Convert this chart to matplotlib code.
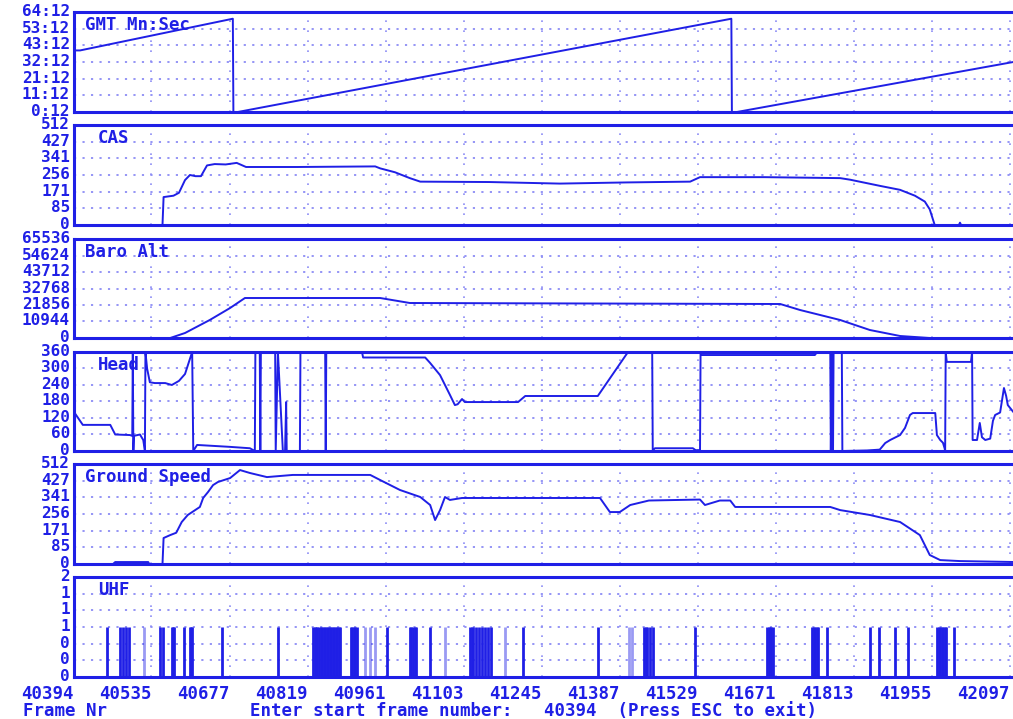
import numpy as np
import matplotlib
matplotlib.use("Agg")
import matplotlib.pyplot as plt
import matplotlib.transforms as mtransforms

# ---------------- data ----------------
x_ticks = [40394, 40535, 40677, 40819, 40961, 41103, 41245, 41387, 41529, 41671, 41813, 41955, 42097]
x_labels = ["40394", "40535", "40677", "40819", "40961", "41103", "41245", "41387",
            "41529", "41671", "41813", "41955", "42097"]

gmt_frames = [40394, 40405, 40683, 40684, 40692, 41590, 41591, 41600, 42103]
gmt_minutes = [39.6, 39.6, 59.9, 0.2, 0.2, 59.9, 0.2, 0.2, 32.2]
gmt_ticks = [0.2, 10.87, 21.53, 32.2, 42.87, 53.53, 64.2]
gmt_labels = ["0:12", "11:12", "21:12", "32:12", "43:12", "53:12", "64:12"]

cas_frames = [40394, 40555, 40557, 40575, 40585, 40596, 40605, 40615, 40625, 40636, 40650, 40670,
              40690, 40707, 40800, 40942, 40951, 40978, 41005, 41024, 41150, 41278, 41400, 41515,
              41533, 41650, 41788, 41806, 41861, 41897, 41924, 41942, 41951, 41960, 42004, 42006,
              42008, 42108]
cas_values = [0, 0, 143, 150, 165, 230, 256, 250, 250, 305, 312, 310,
              318, 297, 297, 300, 290, 270, 240, 222, 220, 212, 218, 222,
              245, 245, 240, 232, 200, 180, 150, 120, 80, 0, 0, 12,
              0, 0]
spd_ticks = [0, 85.33, 170.67, 256, 341.33, 426.67, 512]
spd_labels = ["0", "85", "171", "256", "341", "427", "512"]

alt_frames = [40394, 40569, 40596, 40641, 40678, 40705, 40951, 41005, 41679, 41715, 41788,
              41842, 41897, 41951, 42108]
alt_values = [0, 0, 3310, 11916, 19860, 26480, 26480, 23170, 22500, 18535, 11916,
              5296, 1324, 0, 0]
alt_ticks = [0, 10922.7, 21845.3, 32768, 43690.7, 54613.3, 65536]
alt_labels = ["0", "10944", "21856", "32768", "43712", "54624", "65536"]

head_frames = [40394, 40410, 40460, 40469, 40496, 40500, 40501, 40502, 40503, 40514, 40520, 40523,
               40524, 40527, 40532, 40541, 40560, 40572, 40585, 40596, 40609, 40611, 40618, 40678,
               40714, 40723, 40724, 40732, 40733, 40734, 40760, 40761, 40765, 40774, 40778, 40780,
               40781, 40805, 40806, 40851, 40852, 40853, 40918, 40920, 41033, 41042, 41060, 41069,
               41078, 41087, 41092, 41100, 41105, 41202, 41215, 41347, 41402, 41446, 41447, 41451,
               41520, 41525, 41533, 41534, 41535, 41742, 41746, 41770, 41771, 41773, 41775, 41776,
               41791, 41792, 41837, 41860, 41870, 41879, 41897, 41906, 41915, 41920, 41961, 41964,
               41970, 41975, 41978, 41979, 41980, 41982, 42026, 42028, 42029, 42033, 42037, 42042,
               42046, 42052, 42061, 42066, 42070, 42079, 42086, 42090, 42093, 42103]
head_values = [142, 95, 95, 60, 58, 55, 360, 0, 55, 60, 40, 0,
               360, 300, 250, 247, 247, 240, 255, 280, 360, 0, 22, 15,
               10, 0, 360, 355, 0, 360, 358, 0, 360, 0, 0, 178,
               0, 0, 360, 360, 0, 360, 360, 340, 340, 320, 276, 240,
               204, 167, 170, 189, 178, 178, 200, 200, 360, 360, 2, 10,
               10, 3, 3, 360, 349, 349, 360, 360, 0, 360, 0, 360,
               360, 0, 2, 5, 29, 40, 58, 84, 131, 138, 138, 58,
               40, 30, 10, 0, 360, 324, 324, 360, 40, 40, 40, 102,
               50, 40, 45, 110, 131, 140, 229, 200, 167, 142]
head_ticks = [0, 60, 120, 180, 240, 300, 360]
head_labels = ["0", "60", "120", "180", "240", "300", "360"]

gs_frames = [40394, 40465, 40469, 40529, 40531, 40555, 40557, 40569, 40580, 40590, 40601, 40623,
             40629, 40638, 40647, 40656, 40678, 40696, 40714, 40745, 40792, 40933, 40951, 40987,
             41024, 41042, 41051, 41060, 41069, 41078, 41100, 41351, 41369, 41387, 41406, 41440,
             41533, 41542, 41569, 41588, 41597, 41770, 41788, 41842, 41897, 41933, 41951, 41970,
             42006, 42108]
gs_values = [0, 0, 10, 10, 0, 0, 133, 148, 160, 215, 251, 292,
             338, 369, 404, 420, 440, 481, 466, 445, 456, 456, 430, 379,
             343, 302, 225, 276, 343, 328, 338, 338, 266, 266, 302, 325,
             330, 302, 325, 325, 292, 292, 276, 251, 215, 148, 46, 20,
             15, 10]

uhf_frames = [40454, 40478, 40483, 40489, 40494, 40550, 40556, 40572, 40574, 40576, 40594, 40605,
              40607, 40609, 40663, 40765, 40829, 40832, 40834, 40837, 40840, 40843, 40845, 40848,
              40851, 40854, 40856, 40859, 40862, 40865, 40867, 40870, 40873, 40876, 40878, 40898,
              40900, 40903, 40906, 40909, 40964, 41005, 41008, 41011, 41014, 41016, 41042, 41115,
              41118, 41120, 41125, 41131, 41136, 41142, 41147, 41153, 41211, 41347, 41431, 41434,
              41437, 41442, 41447, 41524, 41655, 41658, 41660, 41663, 41666, 41737, 41740, 41742,
              41745, 41748, 41764, 41842, 41859, 41888, 41911, 41964, 41967, 41970, 41973, 41975,
              41978, 41981, 41995]
uhf_values = [1] * len(uhf_frames)
uhf_light_frames = [40521, 40923, 40933, 40942, 41069, 41178, 41404, 41409]
uhf_light_values = [1] * len(uhf_light_frames)
uhf_ticks = [0, 0.333, 0.667, 1.0, 1.333, 1.667, 2.0]
uhf_labels = ["0", "0", "0", "1", "1", "1", "2"]

# ---------------- style ----------------
W, H = 1013, 719
BLUE = "#1f1fe6"
GRID = "#8c8cf5"
FONT = "DejaVu Sans Mono"
FS = 12.5
FSY = 11.5

fig = plt.figure(figsize=(W / 100, H / 100), dpi=100)
fig.patch.set_facecolor("white")

panels = [(12, 112), (125, 225), (239, 338), (352, 451), (464, 564), (577, 677)]
left_px, right_px = 74, 1016
x_left = 40394
x_right = 40394 + (right_px - left_px) * (42097 - 40394) / (1010 - 74)

specs = [
    ("GMT Mn:Sec", 85, gmt_ticks, gmt_labels, (0.2, 64.2)),
    ("CAS", 98, spd_ticks, spd_labels, (0, 512)),
    ("Baro Alt", 85, alt_ticks, alt_labels, (0, 65536)),
    ("Head", 98, head_ticks, head_labels, (0, 360)),
    ("Ground Speed", 85, spd_ticks, spd_labels, (0, 512)),
    ("UHF", 98, uhf_ticks, uhf_labels, (0, 2)),
]

shift = mtransforms.ScaledTranslation(-4 / 100, 0.5 / 100, fig.dpi_scale_trans)

axes = []
for (top, bot), (title, tx, yt, yl, ylim) in zip(panels, specs):
    ax = fig.add_axes([left_px / W, 1 - bot / H, (right_px - left_px) / W, (bot - top) / H])
    ax.set_xlim(x_left, x_right)
    ax.set_ylim(*ylim)
    ax.set_yticks(yt)
    ax.set_xticks(x_ticks)
    ax.tick_params(axis="both", length=0, pad=4, labelleft=False, labelbottom=False)
    trans = mtransforms.blended_transform_factory(ax.transAxes, ax.transData) + shift
    for v, lab in zip(yt, yl):
        ax.text(0, v, lab, transform=trans, ha="right", va="center", fontfamily=FONT,
                fontweight="bold", fontsize=FSY, color=BLUE, clip_on=False)
    ax.grid(True, axis="y", color=GRID, linestyle=(0, (1.2, 3.5)), linewidth=1.3)
    ax.grid(True, axis="x", color=GRID, linestyle=(0, (1, 5)), linewidth=1.2)
    for s in ax.spines.values():
        s.set_color(BLUE)
        s.set_linewidth(2.2)
    ax.text((tx - left_px) / (right_px - left_px), 0.87, title, transform=ax.transAxes,
            fontfamily=FONT, fontweight="bold", fontsize=FS, color=BLUE, ha="left", va="center")
    axes.append(ax)

lw = 1.4
axes[0].plot(gmt_frames, gmt_minutes, color=BLUE, lw=lw)
axes[1].plot(cas_frames, cas_values, color=BLUE, lw=lw)
axes[2].plot(alt_frames, alt_values, color=BLUE, lw=lw)
axes[3].plot(head_frames, head_values, color=BLUE, lw=lw)
axes[4].plot(gs_frames, gs_values, color=BLUE, lw=lw)
axes[5].vlines(uhf_frames, 0, uhf_values, color=BLUE, lw=2.0)
axes[5].vlines(uhf_light_frames, 0, uhf_light_values, color=BLUE, lw=2.0, alpha=0.45)

# bottom x tick labels (right-aligned at gridlines)
axb = axes[5]
axb.tick_params(axis="x", labelbottom=True, pad=6)
axb.set_xticklabels(x_labels, fontfamily=FONT, fontweight="bold", fontsize=FS, color=BLUE,
                    ha="right")

fig.text(23 / W, 1 - 711 / H, "Frame Nr", fontfamily=FONT, fontweight="bold", fontsize=FS,
         color=BLUE, ha="left", va="center")
fig.text(250 / W, 1 - 711 / H, "Enter start frame number:   40394  (Press ESC to exit)",
         fontfamily=FONT, fontweight="bold", fontsize=FS, color=BLUE, ha="left", va="center")

fig.savefig("out.png", dpi=100, facecolor="white")
